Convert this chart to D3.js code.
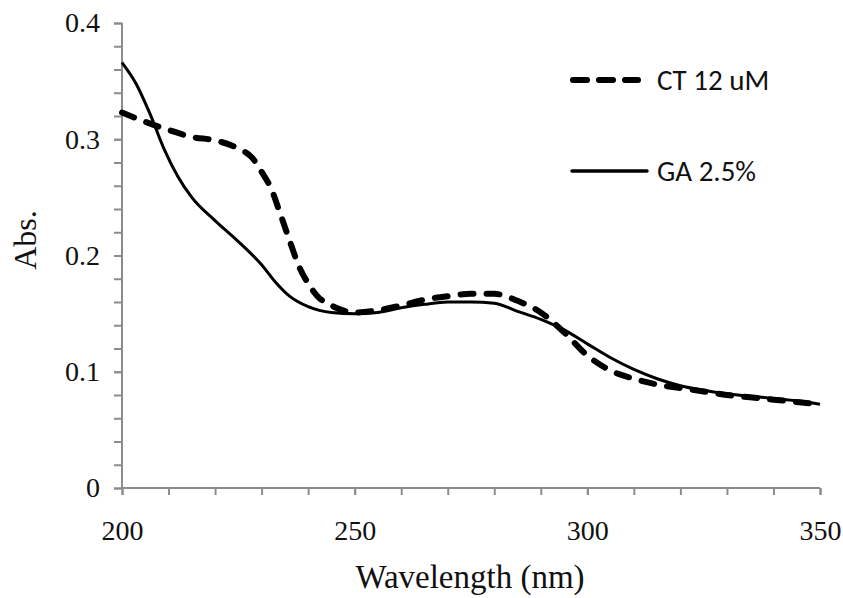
<!DOCTYPE html>
<html>
<head>
<meta charset="utf-8">
<script src="https://cdn.jsdelivr.net/npm/d3@7"></script>
<style>
  body { margin: 0; background: #fff; }
  svg { display: block; }
</style>
</head>
<body>
<script>
var width = 843, height = 598;
var margin = {top: 23, right: 23, bottom: 110, left: 122};
var serif = "'Liberation Serif', 'Times New Roman', serif";
var sans = "Carlito, Lato, sans-serif";

// wavelength (nm) and absorbance
var ctWave = [200,205,210,215,220,225,228,230,232,234,236,238,240,242,245,250,255,260,265,270,275,280,285,290,295,300,305,310,315,320,325,330,335,340,345,350];
var ctAbs  = [0.323,0.315,0.308,0.302,0.299,0.292,0.284,0.272,0.258,0.236,0.213,0.191,0.176,0.165,0.157,0.151,0.153,0.157,0.162,0.165,0.167,0.167,0.161,0.151,0.134,0.114,0.101,0.094,0.089,0.086,0.083,0.080,0.078,0.076,0.074,0.072];

var gaWave = [200,203,206,209,212,215,220,225,230,233,236,240,245,250,255,260,265,270,275,280,285,290,295,300,305,310,315,320,325,330,335,340,345,350];
var gaAbs  = [0.366,0.348,0.322,0.292,0.268,0.250,0.230,0.212,0.192,0.177,0.165,0.156,0.151,0.150,0.151,0.155,0.158,0.160,0.160,0.159,0.152,0.145,0.136,0.124,0.112,0.102,0.094,0.088,0.084,0.081,0.079,0.077,0.075,0.072];

var seriesNames = ["CT 12 uM", "GA 2.5%"];
var xTicks = [200, 250, 300, 350];
var yTicks = [0, 0.1, 0.2, 0.3, 0.4];

var svg = d3.select("body").append("svg")
    .attr("width", width)
    .attr("height", height);

var w = width - margin.left - margin.right,
    h = height - margin.top - margin.bottom;

var x = d3.scaleLinear().domain([200, 350]).range([0, w]);
var y = d3.scaleLinear().domain([0, 0.4]).range([h, 0]);

var g = svg.append("g").attr("transform", "translate(" + margin.left + "," + margin.top + ")");

// minor ticks
g.append("g")
    .attr("transform", "translate(0," + h + ")")
    .call(d3.axisBottom(x).tickValues(d3.range(200, 351, 10)).tickSize(7).tickFormat(""))
    .call(function(a){ a.select(".domain").remove(); });
g.append("g")
    .call(d3.axisLeft(y).tickValues(d3.range(0, 0.401, 0.02)).tickSize(8).tickFormat(""))
    .call(function(a){ a.select(".domain").remove(); });

var xAxis = g.append("g")
    .attr("transform", "translate(0," + h + ")")
    .call(d3.axisBottom(x).tickValues(xTicks).tickSize(7).tickPadding(25).tickFormat(d3.format("d")));
var yAxis = g.append("g")
    .call(d3.axisLeft(y).tickValues(yTicks).tickSize(8).tickPadding(14)
        .tickFormat(function(d){ return d === 0 ? "0" : d3.format(".1f")(d); }));

g.selectAll(".domain, .tick line").attr("stroke", "#8c8c8c").attr("stroke-width", 2);
xAxis.select(".domain").attr("d", "M0,0H" + w);
yAxis.select(".domain").attr("d", "M0,0V" + h);
g.selectAll(".tick text")
    .attr("font-size", 28)
    .attr("fill", "#111")
    .style("font-family", serif);

var line = d3.line()
    .x(function(d){ return x(d[0]); })
    .y(function(d){ return y(d[1]); })
    .curve(d3.curveMonotoneX);

var ct = d3.zip(ctWave, ctAbs), ga = d3.zip(gaWave, gaAbs);

g.append("path").datum(ga)
    .attr("d", line)
    .attr("fill", "none")
    .attr("stroke", "#000")
    .attr("stroke-width", 3);

g.append("path").datum(ct)
    .attr("d", line)
    .attr("fill", "none")
    .attr("stroke", "#000")
    .attr("stroke-width", 6)
    .attr("stroke-linecap", "round")
    .attr("stroke-dasharray", "13,13");

// axis titles
svg.append("text")
    .attr("x", margin.left + w / 2 - 1)
    .attr("y", 588)
    .attr("text-anchor", "middle")
    .attr("font-size", 33)
    .attr("fill", "#111")
    .style("font-family", serif)
    .text("Wavelength (nm)");

svg.append("text")
    .attr("transform", "translate(36,240) rotate(-90)")
    .attr("text-anchor", "middle")
    .attr("font-size", 32)
    .attr("fill", "#111")
    .style("font-family", serif)
    .text("Abs.");

// legend
var legend = svg.append("g");
var items = legend.selectAll("g").data(seriesNames).enter().append("g")
    .attr("transform", function(d, i){ return "translate(572," + (80 + i * 91) + ")"; });
items.append("line")
    .attr("x1", function(d, i){ return i === 0 ? 1 : 0; })
    .attr("x2", function(d, i){ return i === 0 ? 66 : 75; })
    .attr("stroke", "#000")
    .attr("stroke-width", function(d, i){ return i === 0 ? 6 : 3.5; })
    .attr("stroke-linecap", "round")
    .attr("stroke-dasharray", function(d, i){ return i === 0 ? "14,12" : null; });
items.append("text")
    .attr("x", 85)
    .attr("dy", "0.35em")
    .attr("font-size", 29)
    .attr("fill", "#111")
    .style("font-family", sans)
    .text(function(d){ return d; });
</script>
</body>
</html>
